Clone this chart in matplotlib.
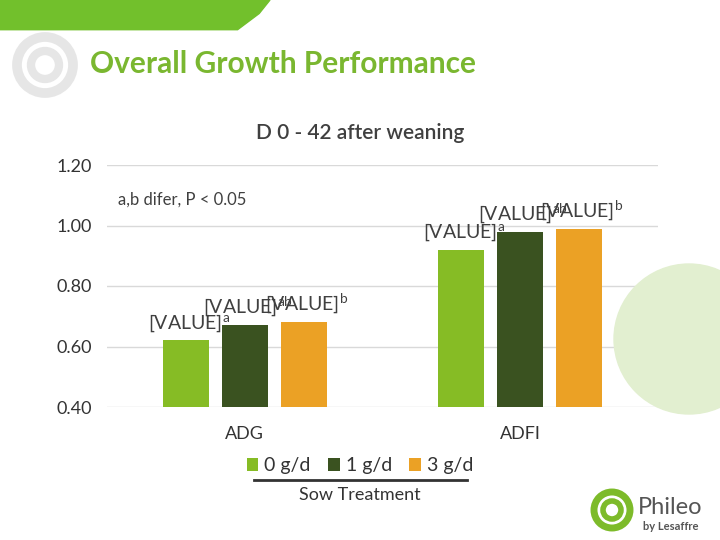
import matplotlib.pyplot as plt
import matplotlib.patches as mpatches
import numpy as np

plt.rcParams['font.family'] = ['Lato', 'DejaVu Sans']
plt.rcParams['mathtext.fontset'] = 'custom'
plt.rcParams['mathtext.rm'] = 'Lato'
plt.rcParams['mathtext.it'] = 'Lato'

categories = ['ADG', 'ADFI']
series = ['0 g/d', '1 g/d', '3 g/d']
values = [[0.62, 0.92], [0.67, 0.98], [0.68, 0.99]]
letters = [['a', 'a'], ['ab', 'ab'], ['b', 'b']]
colors = ['#86bc25', '#3a5220', '#eba125']
yticks = [0.40, 0.60, 0.80, 1.00, 1.20]

fig = plt.figure(figsize=(7.2, 5.4), dpi=100)

# decorations
banner = mpatches.Polygon([[0, 1], [0, 0.945], [0.33, 0.945], [0.36, 0.975], [0.375, 1]],
                          closed=True, transform=fig.transFigure, color='#72c02c', zorder=0)
fig.patches.append(banner)
circ = mpatches.Ellipse((689 / 720, 1 - 339 / 540), 150 / 720, 150 / 540,
                        transform=fig.transFigure, color='#e2efd0', zorder=0)
fig.patches.append(circ)
for r, lw in [(28, 7), (14, 6)]:
    ring = mpatches.Ellipse((45 / 720, 1 - 65 / 540), 2 * r / 720, 2 * r / 540,
                            transform=fig.transFigure, fill=False, ec='#e6e6e6', lw=lw, zorder=0)
    fig.patches.append(ring)
for r, lw in [(18, 5), (9, 4)]:
    ring = mpatches.Ellipse((612 / 720, 1 - 510 / 540), 2 * r / 720, 2 * r / 540,
                            transform=fig.transFigure, fill=False, ec='#7dbb2a', lw=lw, zorder=0)
    fig.patches.append(ring)
fig.text(638 / 720, 1 - 508 / 540, 'Phileo', fontsize=17, color='#555555', va='center')
fig.text(643 / 720, 1 - 526 / 540, 'by Lesaffre', fontsize=8, color='#555555', va='center', fontweight='bold')

fig.text(90 / 720, 1 - 64 / 540, 'Overall Growth Performance', fontsize=21.5, color='#7ab730',
         fontweight='bold', va='center')
fig.text(360 / 720, 1 - 133 / 540, 'D 0 - 42 after weaning', fontsize=15, color='#404040',
         ha='center', va='center', fontweight='semibold')

ax = fig.add_axes([107 / 720, 1 - 407 / 540, 551 / 720, 242 / 540])
ax.patch.set_alpha(0)
x = np.arange(len(categories))
w = 0.167
step = 0.214
for i, s in enumerate(series):
    xs = x + (i - 1) * step
    bars = ax.bar(xs, values[i], width=w, color=colors[i], label=s, zorder=2)
    for b, lt in zip(bars, letters[i]):
        ax.annotate('[VALUE]$^{' + lt + '}$', (b.get_x() + b.get_width() / 2, b.get_height()),
                    xytext=(2, 5), textcoords='offset points', ha='center', va='bottom',
                    fontsize=14, color='#404040')

ax.set_ylim(0.4, 1.2)
ax.set_xlim(-0.5, 1.5)
ax.set_yticks(yticks)
ax.set_yticklabels(['%.2f' % v for v in yticks], fontsize=13, color='#333333')
ax.set_xticks(x)
ax.set_xticklabels(categories, fontsize=13, color='#333333')
ax.tick_params(length=0, axis='y', pad=11)
ax.tick_params(length=0, axis='x', pad=14)
ax.grid(axis='y', color='#d9d9d9', lw=1, zorder=0)
for sp in ax.spines.values():
    sp.set_visible(False)
ax.text(0.02, 0.855, 'a,b difer, P < 0.05', transform=ax.transAxes, fontsize=12,
        color='#404040', va='center')

leg = fig.legend(loc='center', bbox_to_anchor=(360 / 720, 1 - 466 / 540), ncol=3, frameon=False,
                 fontsize=14, handlelength=0.6, handleheight=0.6, handletextpad=0.3,
                 columnspacing=0.9, labelcolor='#333333')
fig.add_artist(plt.Line2D([254 / 720, 467 / 720], [1 - 480 / 540, 1 - 480 / 540],
                          transform=fig.transFigure, color='#333333', lw=2))
fig.text(360 / 720, 1 - 495 / 540, 'Sow Treatment', fontsize=13, color='#333333',
         ha='center', va='center')

fig.savefig('out.png', dpi=100)
